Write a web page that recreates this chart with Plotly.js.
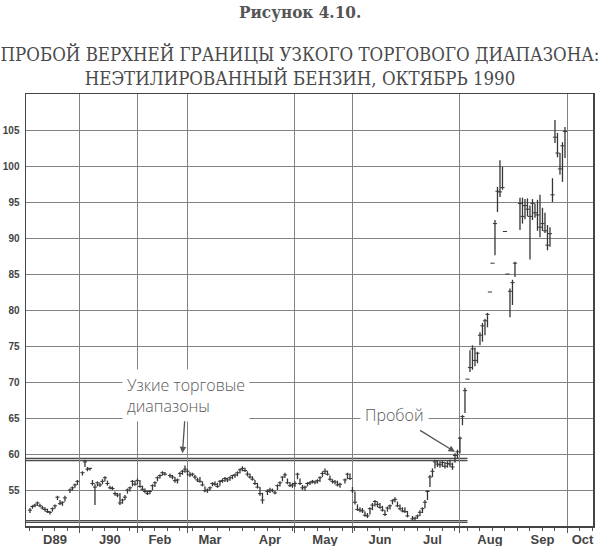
<!DOCTYPE html>
<html>
<head>
<meta charset="utf-8">
<script src="https://cdn.plot.ly/plotly-3.0.1.min.js"></script>
<style>
  html, body { margin: 0; padding: 0; background: #fff; }
  #chart { width: 600px; height: 546px; }
</style>
</head>
<body>
<div id="chart"></div>
<script>
// ---- Data ----
const dates = [
  '1989-12-04','1989-12-05','1989-12-06','1989-12-07','1989-12-08','1989-12-11','1989-12-12','1989-12-13','1989-12-14','1989-12-15',
  '1989-12-18','1989-12-19','1989-12-20','1989-12-21','1989-12-22','1989-12-26','1989-12-27','1989-12-28','1989-12-29',
  '1990-01-02','1990-01-03','1990-01-04','1990-01-05','1990-01-08','1990-01-09','1990-01-10','1990-01-11','1990-01-12',
  '1990-01-15','1990-01-16','1990-01-17','1990-01-18','1990-01-19','1990-01-22','1990-01-23','1990-01-24','1990-01-25','1990-01-26',
  '1990-01-29','1990-01-30','1990-01-31',
  '1990-02-01','1990-02-02','1990-02-05','1990-02-06','1990-02-07','1990-02-08','1990-02-09','1990-02-12','1990-02-13','1990-02-14',
  '1990-02-15','1990-02-16','1990-02-20','1990-02-21','1990-02-22','1990-02-23','1990-02-26','1990-02-27','1990-02-28',
  '1990-03-01','1990-03-02','1990-03-05','1990-03-06','1990-03-07','1990-03-08','1990-03-09','1990-03-12','1990-03-13','1990-03-14',
  '1990-03-15','1990-03-16','1990-03-19','1990-03-20','1990-03-21','1990-03-22','1990-03-23','1990-03-26','1990-03-27','1990-03-28',
  '1990-03-29','1990-03-30',
  '1990-04-02','1990-04-03','1990-04-04','1990-04-05','1990-04-06','1990-04-09','1990-04-10','1990-04-11','1990-04-12',
  '1990-04-16','1990-04-17','1990-04-18','1990-04-19','1990-04-20','1990-04-23','1990-04-24','1990-04-25','1990-04-26','1990-04-27',
  '1990-04-30',
  '1990-05-01','1990-05-02','1990-05-03','1990-05-04','1990-05-07','1990-05-08','1990-05-09','1990-05-10','1990-05-11',
  '1990-05-14','1990-05-15','1990-05-16','1990-05-17','1990-05-18','1990-05-21','1990-05-22','1990-05-23','1990-05-24','1990-05-25',
  '1990-05-29','1990-05-30','1990-05-31',
  '1990-06-01','1990-06-04','1990-06-05','1990-06-06','1990-06-07','1990-06-08','1990-06-11','1990-06-12','1990-06-13','1990-06-14',
  '1990-06-15','1990-06-18','1990-06-19','1990-06-20','1990-06-21','1990-06-22','1990-06-25','1990-06-26','1990-06-27','1990-06-28',
  '1990-06-29',
  '1990-07-02','1990-07-03','1990-07-05','1990-07-06','1990-07-09','1990-07-10','1990-07-11','1990-07-12','1990-07-13',
  '1990-07-16','1990-07-17','1990-07-18','1990-07-19','1990-07-20','1990-07-23','1990-07-24','1990-07-25','1990-07-26','1990-07-27',
  '1990-07-30','1990-07-31',
  '1990-08-01','1990-08-02','1990-08-03','1990-08-06','1990-08-07','1990-08-08','1990-08-09','1990-08-10',
  '1990-08-13','1990-08-14','1990-08-15','1990-08-16','1990-08-17','1990-08-20','1990-08-21','1990-08-22','1990-08-23','1990-08-24',
  '1990-08-27','1990-08-28','1990-08-29','1990-08-30','1990-08-31',
  '1990-09-04','1990-09-05','1990-09-06','1990-09-07','1990-09-10','1990-09-11','1990-09-12','1990-09-13','1990-09-14',
  '1990-09-17','1990-09-18','1990-09-19','1990-09-20','1990-09-21','1990-09-24','1990-09-25','1990-09-26','1990-09-27','1990-09-28'
];
const high = [
  52.5,52.9,53.1,53.4,53.1,52.8,52.6,52.4,52.1,52.6, 53.0,54.2,53.6,53.4,54.2,55.2,55.5,55.9,56.4,
  57.6,59.2,58.2,58.1,56.4,55.8,56.2,56.0,56.5, 56.9,56.3,55.6,55.5,54.8,54.6,54.6,53.8,54.3,55.2, 55.5,56.4,56.3,
  56.6,56.4,55.6,55.2,54.9,55.0,55.8,56.2,56.9,57.2, 57.6,57.5,57.3,57.1,56.8,56.6,57.5,57.8,58.4,
  57.9,57.5,57.4,57.1,56.7,56.8,56.2,55.5,55.2,55.5, 56.1,56.2,56.0,56.4,56.6,56.8,56.7,56.9,57.1,57.3, 57.6,58.0,
  58.3,58.1,57.6,57.3,56.9,56.4,56.0,55.4,54.6, 55.1,55.3,55.2,54.9,55.8,56.2,56.9,57.4,56.6,56.1, 56.0,
  56.2,57.4,56.6,55.7,55.6,56.1,56.2,56.4,56.3, 56.5,56.9,57.6,58.0,57.7,57.0,56.5,56.4,56.3,56.0, 56.6,57.4,57.3,
  55.4,54.8,53.0,52.6,52.5,52.0,51.8,52.6,53.2,53.6, 53.4,53.2,52.8,52.2,52.7,53.0,53.7,54.0,53.4,53.0, 52.6,
  52.6,52.1,51.4,51.3,51.6,52.2,52.6,53.6,55.0, 57.1,58.0,59.2,59.1,59.0,59.1,58.9,59.0,59.2,58.8, 60.1,60.6,
  62.4,65.4,69.2,70.4,74.4,75.1,74.8,74.2, 76.9,78.2,78.8,79.6,82.5,86.5,92.5,97.1,100.8,99.9, 90.9,85.0,83.0,84.2,86.7,
  95.6,95.6,95.4,95.5,94.5,95.4,94.8,95.3,96.0, 94.2,93.5,91.8,91.5,98.3,106.4,104.6,101.8,103.3,105.4
];
const low = [
  51.8,52.4,52.6,52.8,52.6,52.3,52.0,51.8,51.6,52.0, 52.4,53.6,52.9,52.8,53.4,54.6,54.9,55.3,55.7,
  57.0,58.2,57.6,57.7,55.6,52.9,55.5,55.4,55.8, 56.2,55.6,55.1,55.0,54.2,54.0,52.9,53.1,53.6,54.5, 54.8,55.5,55.6,
  55.8,55.3,54.9,54.6,54.3,54.4,55.0,55.4,56.2,56.6, 57.0,57.0,56.7,56.5,56.0,55.9,56.8,57.1,57.4,
  57.0,56.8,56.9,56.5,56.1,56.0,55.5,54.7,54.6,54.9, 55.5,55.6,55.3,55.6,56.0,56.1,56.1,56.3,56.5,56.7, 56.9,57.3,
  57.6,57.5,56.9,56.6,56.3,55.7,55.2,54.2,53.1, 54.3,54.6,54.7,54.4,55.0,55.5,56.2,56.7,55.8,55.4, 55.3,
  55.4,56.5,55.7,55.0,54.9,55.5,55.7,55.9,55.8, 55.9,56.1,56.8,57.2,57.0,56.3,55.9,55.8,55.5,55.3, 55.9,56.5,56.4,
  54.6,53.0,52.1,51.9,51.8,51.3,51.1,51.6,52.2,52.7, 52.6,52.4,52.0,51.4,52.0,52.3,53.0,53.3,52.6,52.2, 51.9,
  51.8,51.2,50.8,50.7,51.0,51.4,51.8,52.5,53.6, 55.4,56.8,58.0,58.2,58.1,58.2,58.0,58.1,58.2,57.8, 58.8,59.4,
  60.1,64.0,65.7,70.4,71.4,71.7,72.2,72.6, 75.1,75.6,76.5,77.6,82.5,86.5,87.6,93.6,95.7,96.7, 90.9,85.0,79.0,80.7,84.6,
  91.1,92.0,92.6,93.0,87.0,92.5,92.8,91.0,90.1, 91.0,90.7,88.3,88.8,95.0,103.2,101.2,98.8,97.8,101.1
];
const close = [
  52.2,52.7,52.9,53.2,52.8,52.5,52.3,52.0,51.9,52.4, 52.8,54.0,53.1,53.3,53.9,55.0,55.3,55.7,56.2,
  57.4,58.9,57.9,58.0,55.9,55.4,56.0,55.7,56.2, 56.7,55.9,55.3,55.2,54.5,54.3,53.2,53.6,54.0,55.0, 55.3,56.2,55.8,
  56.3,55.5,55.1,54.8,54.5,54.8,55.6,56.0,56.7,57.0, 57.4,57.2,57.0,56.8,56.3,56.4,57.3,57.6,57.9,
  57.6,57.1,57.2,56.8,56.4,56.2,55.7,54.9,55.0,55.3, 55.9,55.8,55.5,56.2,56.3,56.6,56.4,56.7,57.0,57.1, 57.4,57.8,
  58.0,57.7,57.2,56.8,56.5,55.9,55.4,54.5,53.6, 54.8,55.0,54.9,54.6,55.6,56.0,56.8,57.1,56.0,55.6, 55.7,
  55.9,57.2,55.9,55.3,55.4,55.9,56.0,56.2,56.1, 56.3,56.7,57.3,57.6,57.2,56.5,56.2,56.1,55.7,55.8, 56.4,57.2,56.6,
  54.9,53.3,52.3,52.2,52.1,51.5,51.4,52.4,52.9,53.4, 53.0,52.6,52.2,51.6,52.5,52.8,53.5,53.7,52.8,52.4, 52.1,
  52.0,51.4,51.0,51.1,51.4,51.9,52.4,53.3,54.8, 56.8,57.6,58.9,58.6,58.5,58.8,58.3,58.7,58.6,58.2, 59.8,60.3,
  62.2,65.2,68.8,70.4,72.0,74.6,73.0,74.0, 76.5,77.8,78.5,79.4,82.5,86.5,92.0,96.5,96.4,97.0, 90.9,85.0,82.6,83.8,86.5,
  94.8,93.0,94.5,94.0,93.0,94.8,93.5,93.2,91.5, 92.0,91.0,89.0,90.6,96.0,104.0,101.8,99.6,102.8,104.8
];

// Axis ticks / labels
const monthStarts = ['1990-01-01','1990-02-01','1990-03-01','1990-04-01','1990-05-01','1990-06-01',
                     '1990-07-01','1990-08-01','1990-09-01','1990-10-01'];
const monthLabelDates = ['1989-12-18','1990-01-17','1990-02-14','1990-03-14','1990-04-17','1990-05-17',
                         '1990-06-18','1990-07-17','1990-08-17','1990-09-17','1990-10-09'];
const monthLabels = ['D89','J90','Feb','Mar','Apr','May','Jun','Jul','Aug','Sep','Oct'];
const priceTicks = [55, 60, 65, 70, 75, 80, 85, 90, 95, 100, 105];

// Narrow trading range boundaries (drawn as double lines)
const channelSpan = ['1989-11-30 10:00', '1990-08-06'];
const channelTop = [59.1, 59.4];
const channelBottom = [50.5, 50.75];

// Callouts
const calloutRange = {text: 'Узкие торговые<br>диапазоны', x: '1990-02-27', y: 60.1};
const calloutBreak = {text: 'Пробой', x: '1990-07-30', y: 60.3};

// ---- Build traces ----
const segX = [], segY = [];
dates.forEach((d, i) => { segX.push(d, d, null); segY.push(low[i], high[i], null); });

const barColor = '#363636';
const xRange = ['1989-11-30 10:00', '1990-10-15 05:00'];
const breaks = [{bounds: ['sat', 'mon']}];

const traces = [
  {type: 'scatter', mode: 'lines', x: segX, y: segY, connectgaps: false,
   line: {color: barColor, width: 1.3}, hoverinfo: 'skip', showlegend: false},
  {type: 'scatter', mode: 'markers', x: dates, y: close,
   marker: {symbol: 'line-ew', size: 3, color: barColor, line: {color: barColor, width: 1}},
   hoverinfo: 'skip', showlegend: false},
  {type: 'scatter', mode: 'markers', x: [dates[0]], y: [null], xaxis: 'x2', yaxis: 'y',
   hoverinfo: 'skip', showlegend: false}
];

const shapes = [];
channelTop.concat(channelBottom).forEach(v => {
  shapes.push({type: 'line', xref: 'x', yref: 'y', x0: channelSpan[0], x1: channelSpan[1], y0: v, y1: v,
               line: {color: '#4a4a4a', width: 1.3}, layer: 'below'});
});

const gridColor = '#828282';
const layout = {
  width: 600, height: 546,
  margin: {l: 26, r: 7, t: 94, b: 20},
  paper_bgcolor: '#ffffff', plot_bgcolor: '#ffffff',
  showlegend: false,
  title: {
    text: 'ПРОБОЙ ВЕРХНЕЙ ГРАНИЦЫ УЗКОГО ТОРГОВОГО ДИАПАЗОНА:<br>НЕЭТИЛИРОВАННЫЙ БЕНЗИН, ОКТЯБРЬ 1990',
    x: 0.5, xanchor: 'center', xref: 'container',
    y: 1 - 61 / 546, yanchor: 'middle',
    font: {family: 'DejaVu Serif Condensed, Liberation Serif, serif', size: 18.5, color: '#4a4a4a'}
  },
  xaxis: {
    type: 'date', range: xRange, rangebreaks: breaks,
    tickmode: 'array', tickvals: monthStarts, showticklabels: false,
    ticks: 'outside', ticklen: 5, tickcolor: '#555', tickwidth: 1,
    showgrid: true, gridcolor: gridColor, gridwidth: 1,
    showline: true, mirror: true, linecolor: '#444', linewidth: 1.5, zeroline: false,
    minor: {dtick: 7 * 86400000, tick0: '1989-12-04', ticks: 'outside', ticklen: 3, tickcolor: '#555', showgrid: false}
  },
  xaxis2: {
    type: 'date', range: xRange, rangebreaks: breaks, overlaying: 'x', anchor: 'y', side: 'bottom',
    tickmode: 'array', tickvals: monthLabelDates, ticktext: monthLabels,
    showgrid: false, ticks: '', showline: false, zeroline: false, ticklabelstandoff: 4,
    tickfont: {family: 'Liberation Sans, Arial, sans-serif', size: 13, color: '#444', weight: 'bold'}
  },
  yaxis: {
    range: [50, 110], tickmode: 'array', tickvals: priceTicks,
    ticks: '', showgrid: true, gridcolor: gridColor, gridwidth: 1,
    showline: true, mirror: true, linecolor: '#444', linewidth: 1.5, zeroline: false,
    ticklabelstandoff: 3,
    tickfont: {family: 'Liberation Sans, Arial, sans-serif', size: 10, color: '#444', weight: 'bold'}
  },
  shapes: shapes,
  annotations: [
    {text: 'Рисунок 4.10.', xref: 'paper', yref: 'paper', x: (300 - 26) / 567, y: (526 - 12) / 432,
     xanchor: 'center', yanchor: 'middle', showarrow: false,
     font: {family: 'DejaVu Serif Condensed, Liberation Serif, serif', size: 17, color: '#555', weight: 'bold'}},
    {text: calloutRange.text, x: calloutRange.x, y: calloutRange.y, xref: 'x', yref: 'y',
     ax: 4, ay: -58, align: 'left', showarrow: true, arrowhead: 2, arrowsize: 1, arrowwidth: 1.3,
     arrowcolor: '#555', bgcolor: '#ffffff', borderpad: 4,
     font: {family: 'Open Sans, Noto Sans, sans-serif', size: 16, color: '#5a5a5a', weight: 300}},
    {text: calloutBreak.text, x: calloutBreak.x, y: calloutBreak.y, xref: 'x', yref: 'y',
     ax: -60, ay: -37, showarrow: true, arrowhead: 2, arrowsize: 1, arrowwidth: 1.3,
     arrowcolor: '#555', bgcolor: '#ffffff', borderpad: 4,
     font: {family: 'Open Sans, Noto Sans, sans-serif', size: 16, color: '#5a5a5a', weight: 300}}
  ]
};

Plotly.newPlot('chart', traces, layout, {displayModeBar: false, staticPlot: true});
</script>
</body>
</html>
